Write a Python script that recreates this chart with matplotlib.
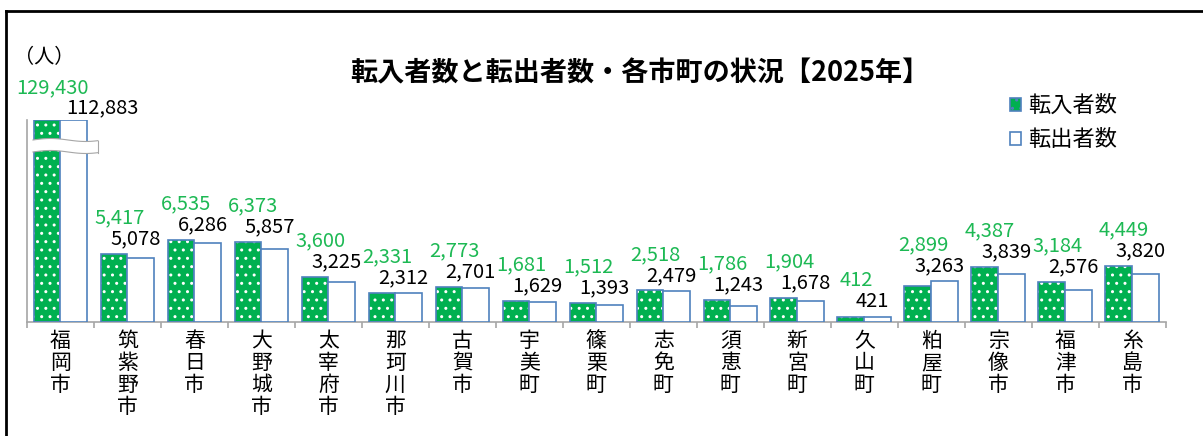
import numpy as np
import matplotlib
matplotlib.use("Agg")
import matplotlib.pyplot as plt
from matplotlib.patches import Patch, Polygon
from matplotlib.lines import Line2D

plt.rcParams["font.family"] = ["Noto Sans CJK JP", "DejaVu Sans"]

# data
cities = ["福岡市", "筑紫野市", "春日市", "大野城市", "太宰府市", "那珂川市", "古賀市", "宇美町", "篠栗町",
          "志免町", "須恵町", "新宮町", "久山町", "粕屋町", "宗像市", "福津市", "糸島市"]
moved_in = [129430, 5417, 6535, 6373, 3600, 2331, 2773, 1681, 1512, 2518, 1786, 1904, 412, 2899, 4387, 3184, 4449]
moved_out = [112883, 5078, 6286, 5857, 3225, 2312, 2701, 1629, 1393, 2479, 1243, 1678, 421, 3263, 3839, 2576, 3820]
series_names = ["転入者数", "転出者数"]
title = "転入者数と転出者数・各市町の状況【2025年】"
unit_label = "（人）"

Y_CAP = 16100  # fukuoka bars are cut here (broken axis)
GREEN = "#00B050"
LABEL_GREEN = "#1DB954"
BLUE = "#4F81BD"
GRAY = "#A6A6A6"

fig = plt.figure(figsize=(12.03, 4.36), dpi=100)
ax = fig.add_axes([0.0224, 0.2615, 0.9466, 0.4633])

x = np.arange(len(cities))
w = 0.4
vin = np.minimum(moved_in, Y_CAP)
vout = np.minimum(moved_out, Y_CAP)

# green dotted bars: fill + hatch first, then the blue outline
ax.bar(x - w / 2, vin, w, color=GREEN, edgecolor="white", linewidth=0, hatch="..", zorder=2)
ax.bar(x - w / 2, vin, w, facecolor="none", edgecolor=BLUE, linewidth=1.2, zorder=3)
ax.bar(x + w / 2, vout, w, color="white", edgecolor=BLUE, linewidth=1.2, zorder=3)

ax.set_xlim(-0.5, len(cities) - 0.5)
ax.set_ylim(0, Y_CAP)
for s in ["top", "right"]:
    ax.spines[s].set_visible(False)
ax.spines["left"].set_color(GRAY)
ax.spines["bottom"].set_color(GRAY)
ax.spines["left"].set_linewidth(1.2)
ax.spines["bottom"].set_linewidth(1.2)
ax.set_yticks([])
ax.set_xticks([])
ax.set_xticks(np.arange(len(cities) + 1) - 0.5, minor=True)
ax.tick_params(axis="x", which="minor", length=4, color=GRAY, width=1.2, labelbottom=False)

# value labels: black above the taller bar of the pair, green above that
px = Y_CAP / 202.0  # data units per pixel
fs_val = 14.5
for i in range(len(cities)):
    if moved_in[i] > Y_CAP:
        ax.text(i - 0.12, Y_CAP + 32 * px, f"{moved_in[i]:,}", color=LABEL_GREEN, ha="center", va="center",
                fontsize=fs_val, clip_on=False)
        ax.text(i + 0.62, Y_CAP + 12 * px, f"{moved_out[i]:,}", color="black", ha="center", va="center",
                fontsize=fs_val, clip_on=False)
        continue
    y_black = max(vin[i], vout[i]) + 15 * px
    ax.text(i + 0.12, y_black, f"{moved_out[i]:,}", color="black", ha="center", va="center",
            fontsize=fs_val, clip_on=False)
    ax.text(i - 0.12, y_black + 21 * px, f"{moved_in[i]:,}", color=LABEL_GREEN, ha="center",
            va="center", fontsize=fs_val, clip_on=False)

# break mark across fukuoka bars
i0 = int(np.argmax(moved_in))
xs = np.linspace(i0 - 0.41, i0 + 0.56, 40)
y_top = Y_CAP - 20 * px + 1.5 * px * np.sin((xs - xs[0]) * 6)
y_bot = y_top - 12 * px
poly = np.vstack([np.column_stack([xs, y_top]), np.column_stack([xs[::-1], y_bot[::-1]])])
ax.add_patch(Polygon(poly, closed=True, facecolor="white", edgecolor="none", zorder=4))
ax.plot(xs, y_top, color=GRAY, lw=0.8, zorder=5)
ax.plot(xs, y_bot, color=GRAY, lw=0.8, zorder=5)
ax.plot([xs[-1], xs[-1]], [y_bot[-1], y_top[-1]], color=GRAY, lw=0.8, zorder=5)

# vertical category labels
for i, name in enumerate(cities):
    ax.text(i, -8 * px, "\n".join(name), ha="center", va="top", fontsize=15, linespacing=1.0,
            clip_on=False)

fig.text(0.532, 0.832, title, ha="center", va="center", fontsize=19.5, fontweight="bold")
fig.text(0.012, 0.868, unit_label, ha="left", va="center", fontsize=14.5)

handles = [Patch(facecolor=GREEN, edgecolor=BLUE, hatch="..", linewidth=1.2),
           Patch(facecolor="white", edgecolor=BLUE, linewidth=1.2)]
fig.legend(handles, series_names, loc="upper left", bbox_to_anchor=(0.823, 0.83), frameon=False,
           fontsize=16, handlelength=0.5, handleheight=0.5, handletextpad=0.3, labelspacing=0.5)

# outer frame (top and left)
fig.add_artist(Line2D([0.005, 1.0], [0.975, 0.975], color="black", lw=2))
fig.add_artist(Line2D([0.005, 0.005], [0.0, 0.975], color="black", lw=2))

fig.savefig("out.png", dpi=100)
